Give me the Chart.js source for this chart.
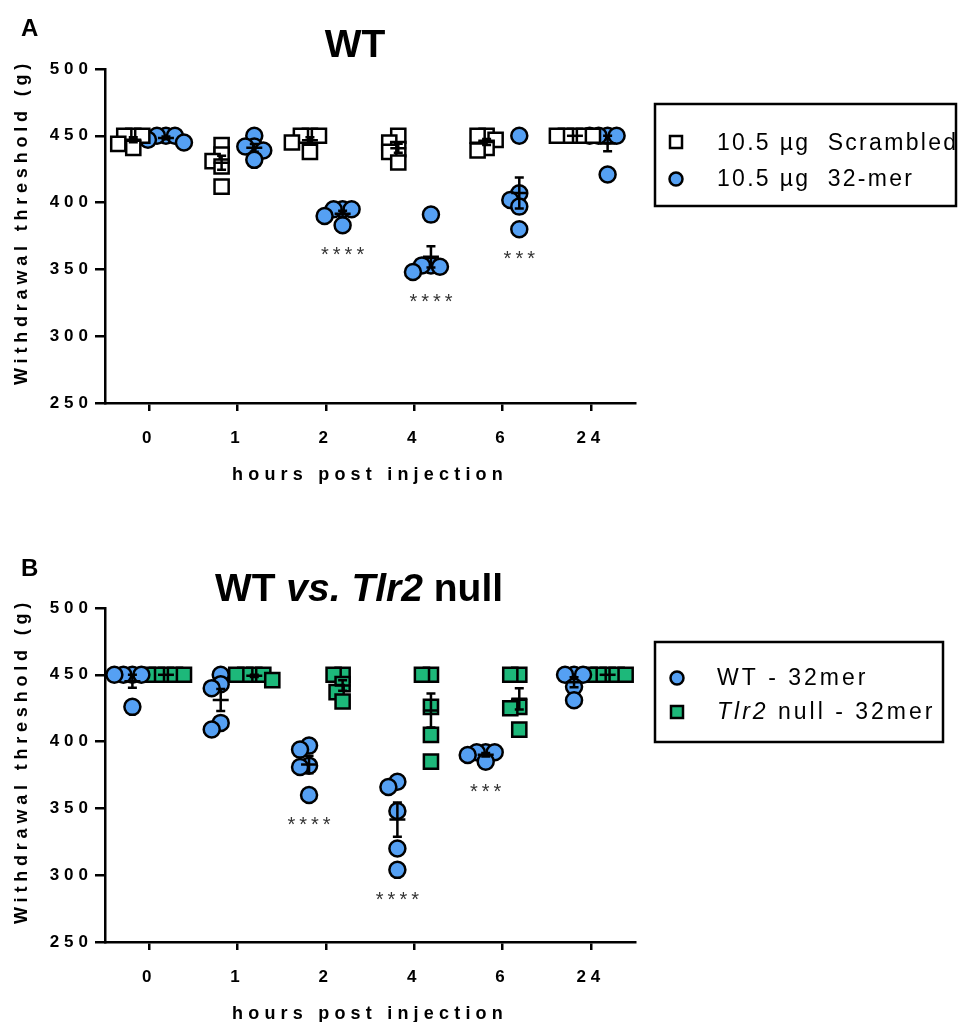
<!DOCTYPE html>
<html>
<head>
<meta charset="utf-8">
<script src="https://cdn.jsdelivr.net/npm/chart.js@4.4.1/dist/chart.umd.min.js"></script>
<style>
  html, body { margin: 0; padding: 0; background: #fff; }
  #wrapA { position: absolute; left: 0; top: 0; }
  #wrapB { position: absolute; left: 0; top: 520px; }
</style>
</head>
<body>
<div id="wrapA"><canvas id="chartA" width="959" height="520"></canvas></div>
<div id="wrapB"><canvas id="chartB" width="959" height="502"></canvas></div>
<script>
// x categories (hours post injection)
const hours = ['0', '1', '2', '4', '6', '24'];

// panel A - WT mice, one array per time point
const scrambledA = [[450, 450, 441, 444, 450], [443, 436, 431, 427, 412], [450, 450, 438, 445, 450],
                    [450, 445, 440, 438, 430], [450, 450, 441, 439, 447], [450, 450, 450, 450, 450]];
const merA = [[450, 450, 445, 450, 447], [442, 432, 450, 442, 439], [395, 395, 383, 390, 395],
              [391, 353, 348, 353, 352], [450, 407, 402, 397, 380], [450, 450, 450, 450, 421]];
const starsA = ['', '', '****', '****', '***', ''];

// panel B - WT vs Tlr2 null
const wtB = [[450, 450, 426, 450, 450], [450, 443, 440, 414, 409], [397, 394, 382, 381, 360],
             [370, 366, 348, 320, 304], [392, 392, 392, 385, 390], [450, 450, 450, 441, 431]];
const tlrB = [[450, 450, 450, 450, 450], [450, 450, 446, 450, 450], [450, 450, 443, 437, 430],
              [450, 450, 426, 405, 385], [450, 450, 426, 425, 409], [450, 450, 450, 450, 450]];
const starsB = ['', '', '****', '****', '***', ''];

const FONT = '"Liberation Sans", Arial, Helvetica, sans-serif';
const BLUE = '#55a0f3';
const GREEN = '#1db87a';

// spread overlapping points sideways (scatter dot plot look)
function swarm(groups, offset) {
  const ux = 88.3, uy = 1.336, step = 3, minDist = 9;
  const out = [];
  groups.forEach((vals, gi) => {
    const placed = [];
    const order = vals.map((v, i) => i).sort((a, b) => vals[b] - vals[a]);
    order.forEach(i => {
      const py = vals[i] * uy;
      for (let k = 0; k < 60; k++) {
        const off = (k % 2 ? -1 : 1) * Math.ceil(k / 2) * step;
        if (placed.every(p => Math.hypot(p.x - off, p.y - py) >= minDist)) {
          placed.push({ x: off, y: py });
          out.push({ x: gi + offset + off / ux, y: vals[i] });
          break;
        }
      }
    });
  });
  return out;
}

function txt(ctx, s, x, y, font, ls, align, base, color) {
  ctx.save();
  ctx.font = font;
  ctx.letterSpacing = ls + 'px';
  ctx.textAlign = align;
  ctx.textBaseline = base;
  ctx.fillStyle = color || '#000';
  ctx.fillText(s, x, y);
  ctx.restore();
}

// several font runs on one line
function richText(ctx, runs, x, y, ls, align) {
  ctx.save();
  ctx.letterSpacing = ls + 'px';
  ctx.textBaseline = 'middle';
  ctx.fillStyle = '#000';
  let total = 0;
  runs.forEach(r => { ctx.font = r[1]; total += ctx.measureText(r[0]).width; });
  let cx = align === 'center' ? x - total / 2 : x;
  ctx.textAlign = 'left';
  runs.forEach(r => { ctx.font = r[1]; ctx.fillText(r[0], cx, y); cx += ctx.measureText(r[0]).width; });
  ctx.restore();
}

function square(ctx, cx, cy, s, fill) {
  ctx.save();
  ctx.fillStyle = fill; ctx.fillRect(cx - s / 2, cy - s / 2, s, s);
  ctx.lineWidth = 2.5; ctx.strokeStyle = '#000'; ctx.strokeRect(cx - s / 2, cy - s / 2, s, s);
  ctx.restore();
}
function circle(ctx, cx, cy, r, fill) {
  ctx.save();
  ctx.beginPath(); ctx.arc(cx, cy, r, 0, Math.PI * 2);
  ctx.fillStyle = fill; ctx.fill();
  ctx.lineWidth = 2.5; ctx.strokeStyle = '#000'; ctx.stroke();
  ctx.restore();
}

function yTitle(ctx, cy) {
  ctx.save();
  ctx.translate(22, cy);
  ctx.rotate(-Math.PI / 2);
  txt(ctx, 'Withdrawal threshold (g)', 0, 0, 'bold 18px ' + FONT, 4.8, 'center', 'middle');
  ctx.restore();
}

function makeDecor(starSet, stars, drawText) {
  return {
    id: 'decor',
    beforeDraw(chart) { chart.ctx.letterSpacing = '5px'; },
    afterDatasetsDraw(chart) {
      const ctx = chart.ctx, xs = chart.scales.x, ys = chart.scales.y;
      ctx.save();
      ctx.strokeStyle = '#000';
      ctx.lineWidth = 2.5;
      // mean +/- SEM
      chart.data.datasets.forEach(ds => {
        ds.groups.forEach((vals, i) => {
          const n = vals.length;
          const m = vals.reduce((a, b) => a + b, 0) / n;
          const sem = Math.sqrt(vals.reduce((a, b) => a + (b - m) ** 2, 0) / (n - 1)) / Math.sqrt(n);
          const x = xs.getPixelForValue(i + ds.offset);
          const yM = ys.getPixelForValue(m), yT = ys.getPixelForValue(m + sem), yB = ys.getPixelForValue(m - sem);
          ctx.beginPath();
          ctx.moveTo(x - 8, yM); ctx.lineTo(x + 8, yM);
          if (sem > 0) {
            ctx.moveTo(x, yT); ctx.lineTo(x, yB);
            ctx.moveTo(x - 4.5, yT); ctx.lineTo(x + 4.5, yT);
            ctx.moveTo(x - 4.5, yB); ctx.lineTo(x + 4.5, yB);
          }
          ctx.stroke();
        });
      });
      ctx.restore();
      // significance stars under the treated group
      const sd = chart.data.datasets[starSet];
      stars.forEach((s, i) => {
        if (!s) return;
        const lo = Math.min(...sd.groups[i]);
        txt(ctx, s, xs.getPixelForValue(i + sd.offset) + 2, ys.getPixelForValue(lo) + 36, '20px ' + FONT, 4, 'center', 'alphabetic', '#333');
      });
    },
    afterDraw(chart) { drawText(chart.ctx); }
  };
}

function makeChart(id, datasets, top, xh, decor) {
  const tickFont = { family: FONT, size: 17, weight: 'bold' };
  return new Chart(document.getElementById(id), {
    type: 'scatter',
    data: { datasets },
    options: {
      responsive: false,
      animation: false,
      events: [],
      layout: { padding: { left: 0, top: top, right: 324, bottom: 0 } },
      plugins: { legend: { display: false }, tooltip: { enabled: false } },
      scales: {
        x: {
          type: 'linear', min: -0.5, max: 5.5,
          afterBuildTicks: s => { s.ticks = hours.map((h, i) => ({ value: i })); },
          afterFit: s => { s.height = xh; },
          ticks: { callback: v => hours[v], font: tickFont, color: '#000', padding: 17, maxRotation: 0, autoSkip: false },
          grid: { drawOnChartArea: false, drawTicks: true, tickLength: 8, color: '#000', lineWidth: 2.5 },
          border: { color: '#000', width: 2.5 }
        },
        y: {
          min: 250, max: 500,
          afterBuildTicks: s => { s.ticks = [250, 300, 350, 400, 450, 500].map(v => ({ value: v })); },
          afterFit: s => { s.width = 105; },
          ticks: { font: tickFont, color: '#000', padding: 2 },
          grid: { drawOnChartArea: false, drawTicks: true, tickLength: 10, color: '#000', lineWidth: 2.5 },
          border: { color: '#000', width: 2.5 }
        }
      }
    },
    plugins: [decor]
  });
}

function pointSet(label, groups, offset, style, fill) {
  return {
    label, groups, offset,
    data: swarm(groups, offset),
    pointStyle: style,
    pointRadius: style === 'rect' ? 10 : 8,
    pointBackgroundColor: fill,
    pointBorderColor: '#000',
    pointBorderWidth: 2.5,
    showLine: false
  };
}

// Panel A
makeChart('chartA', [
  pointSet('10.5 µg Scrambled', scrambledA, -0.18, 'rect', '#ffffff'),
  pointSet('10.5 µg 32-mer', merA, 0.19, 'circle', BLUE)
], 69, 117, makeDecor(1, starsA, ctx => {
  txt(ctx, 'A', 21, 36, 'bold 24px ' + FONT, 0, 'left', 'alphabetic');
  txt(ctx, 'WT', 355, 57, 'bold 39px ' + FONT, 0, 'center', 'alphabetic');
  yTitle(ctx, 222);
  txt(ctx, 'hours post injection', 370, 480, 'bold 18px ' + FONT, 5.2, 'center', 'alphabetic');
  ctx.save(); ctx.lineWidth = 2.5; ctx.strokeStyle = '#000'; ctx.strokeRect(655, 104, 301, 102); ctx.restore();
  square(ctx, 676, 142, 12, '#ffffff');
  txt(ctx, '10.5 µg  Scrambled', 717, 144, '23px ' + FONT, 2.3, 'left', 'middle');
  circle(ctx, 676, 179, 6.5, BLUE);
  txt(ctx, '10.5 µg  32-mer', 717, 180, '23px ' + FONT, 2.3, 'left', 'middle');
}));

// Panel B
makeChart('chartB', [
  pointSet('WT - 32mer', wtB, -0.19, 'circle', BLUE),
  pointSet('Tlr2 null - 32mer', tlrB, 0.19, 'rect', GREEN)
], 88, 80, makeDecor(0, starsB, ctx => {
  txt(ctx, 'B', 21, 56, 'bold 24px ' + FONT, 0, 'left', 'alphabetic');
  richText(ctx, [['WT ', 'bold 39px ' + FONT], ['vs.', 'italic bold 39px ' + FONT], [' ', 'bold 39px ' + FONT],
                 ['Tlr2', 'italic bold 39px ' + FONT], [' null', 'bold 39px ' + FONT]], 359, 70, 0, 'center');
  yTitle(ctx, 241);
  txt(ctx, 'hours post injection', 370, 499, 'bold 18px ' + FONT, 5.2, 'center', 'alphabetic');
  ctx.save(); ctx.lineWidth = 2.5; ctx.strokeStyle = '#000'; ctx.strokeRect(655, 122, 288, 100); ctx.restore();
  circle(ctx, 677, 158, 6.5, BLUE);
  txt(ctx, 'WT - 32mer', 717, 159, '23px ' + FONT, 3, 'left', 'middle');
  square(ctx, 677, 192, 12, GREEN);
  richText(ctx, [['Tlr2', 'italic 23px ' + FONT], [' null - 32mer', '23px ' + FONT]], 717, 193, 3, 'left');
}));
</script>
</body>
</html>
